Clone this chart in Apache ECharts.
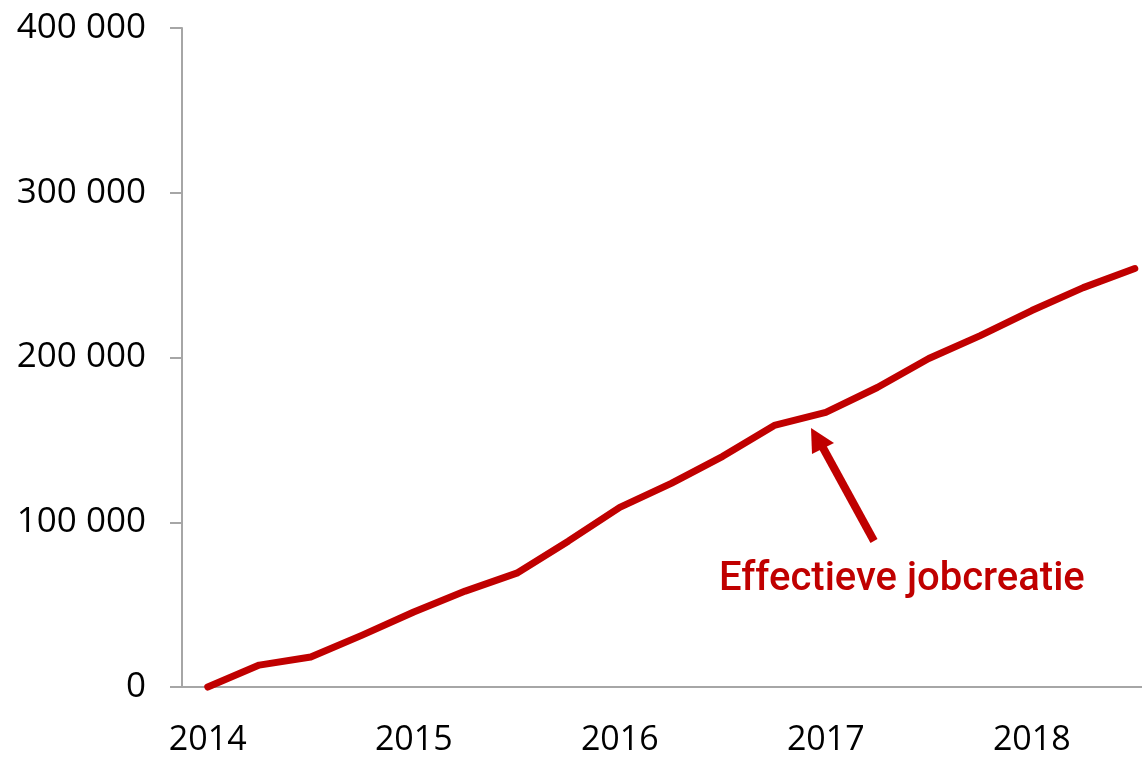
<!DOCTYPE html>
<html>
<head>
<meta charset="utf-8">
<script src="https://cdn.jsdelivr.net/npm/echarts@6/dist/echarts.min.js"></script>
<style>
html, body { margin: 0; padding: 0; background: #fff; }
#chart { width: 1142px; height: 757px; }
</style>
</head>
<body>
<div id="chart"></div>
<script>
// kwartalen 2014Q1 - 2018Q3
const quarters = ['2014Q1','2014Q2','2014Q3','2014Q4','2015Q1','2015Q2','2015Q3','2015Q4',
  '2016Q1','2016Q2','2016Q3','2016Q4','2017Q1','2017Q2','2017Q3','2017Q4',
  '2018Q1','2018Q2','2018Q3'];
const jobs = [0, 13300, 18200, 31500, 45500, 58200, 69100, 88500, 109000, 123600,
  140000, 158800, 166700, 181800, 199400, 213300, 228500, 242400, 254000];
const yTicks = [0, 100000, 200000, 300000, 400000];
const yearLabels = ['2014', '2015', '2016', '2017', '2018'];
const annotation = 'Effectieve jobcreatie';

const red = '#c00000';
const axisGrey = '#a6a6a6';
const font = '"Open Sans", sans-serif';

// positie van elk kwartaal op de x-as (index)
const points = jobs.map((v, i) => [i, v]);
const yearPos = yearLabels.map(y => quarters.indexOf(y + 'Q1'));

let myChart = echarts.init(document.getElementById('chart'));
myChart.setOption({
    animation: false,
    grid: { left: 182, top: 28, bottom: 70, right: 0, containLabel: false },
    xAxis: {
        type: 'value',
        min: -0.5,
        max: 18.14,
        splitLine: { show: false },
        axisLine: { lineStyle: { color: axisGrey, width: 2 } },
        axisTick: { show: false },
        axisLabel: {
            customValues: yearPos,
            margin: 36,
            color: '#000',
            fontSize: 34,
            fontFamily: font,
            formatter: v => quarters[Math.round(v)].slice(0, 4)
        }
    },
    yAxis: {
        type: 'value',
        min: yTicks[0],
        max: yTicks[yTicks.length - 1],
        interval: 100000,
        splitLine: { show: false },
        axisLine: { show: true, onZero: false, lineStyle: { color: axisGrey, width: 2 } },
        axisTick: { show: true, length: 12, lineStyle: { color: axisGrey, width: 2 } },
        axisLabel: {
            margin: 36,
            color: '#000',
            fontSize: 35,
            fontFamily: font,
            formatter: v => String(v).replace(/\B(?=(\d{3})+(?!\d))/g, ' ')
        }
    },
    series: [{
        type: 'line',
        data: points,
        symbol: 'none',
        clip: false,
        lineStyle: { color: red, width: 7, cap: 'round', join: 'round' }
    }],
    graphic: [
        {
            type: 'line',
            shape: { x1: 874, y1: 541, x2: 822, y2: 446 },
            style: { stroke: red, lineWidth: 8 }
        },
        {
            type: 'polygon',
            shape: { points: [[811, 428], [812, 454], [834, 443]] },
            style: { fill: red }
        },
        {
            type: 'text',
            left: 719,
            top: 560,
            style: {
                text: annotation,
                fill: red,
                font: '500 40px Roboto, sans-serif'
            }
        }
    ]
});
</script>
</body>
</html>
